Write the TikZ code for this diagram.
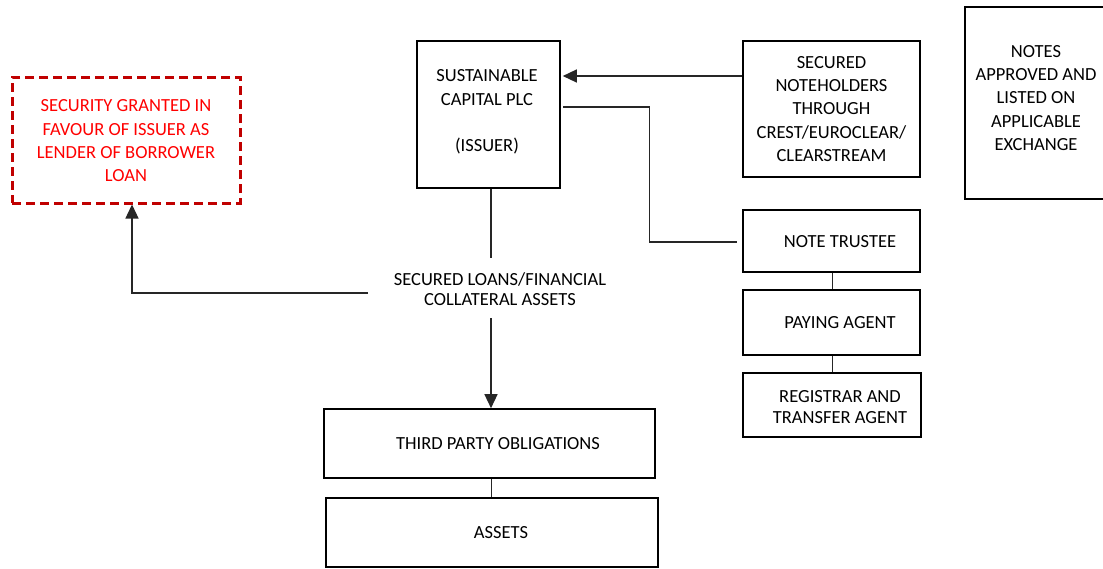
\documentclass[tikz,border=0pt]{standalone}
\usepackage{fontspec}
\setmainfont{Carlito}
\usetikzlibrary{arrows.meta,calc}
\definecolor{dred}{HTML}{C00000}
\definecolor{bred}{HTML}{FF0000}
\begin{document}
\begin{tikzpicture}[x=1pt,y=-1pt,
  boxst/.style={draw=black,line width=1.6pt,rectangle,inner sep=0pt},
  txt/.style={align=center,inner sep=0pt,font=\fontsize{18.5}{23.3}\selectfont},
  txtb/.style={align=center,inner sep=0pt,font=\fontsize{18.5}{20.7}\selectfont},
  conn/.style={line width=1.4pt,draw=black!85},
  arr/.style={conn,-{Triangle[length=14pt,width=13pt]}}]
\useasboundingbox (0,0) rectangle (1103,568);
% boxes
\node[boxst,draw=dred,line width=3pt,dash pattern=on 9pt off 5pt,minimum width=228pt,minimum height=126pt] (sec) at (126,140) {};
\node[txt,text=bred] (sect) at (126,141) {SECURITY GRANTED IN\\FAVOUR OF ISSUER AS\\LENDER OF BORROWER\\LOAN};
\node[boxst,minimum width=143pt,minimum height=147pt] (iss) at (488.5,114.5) {};
\node[txt] (isst) at (487,112) {SUSTAINABLE\\CAPITAL PLC\\[23.3pt](ISSUER)};
\node[boxst,minimum width=177pt,minimum height=136pt] (nh) at (831.5,109) {};
\node[txt] (nht) at (831.5,109) {SECURED\\NOTEHOLDERS\\THROUGH\\CREST/EUROCLEAR/\\CLEARSTREAM};
\node[boxst,minimum width=142pt,minimum height=192pt] (nt) at (1036,103) {};
\node[txt] (ntt) at (1036,98) {NOTES\\APPROVED AND\\LISTED ON\\APPLICABLE\\EXCHANGE};
\node[boxst,minimum width=177pt,minimum height=62pt] (tr) at (831.5,241) {};
\node[txt] (trt) at (840,242) {NOTE TRUSTEE};
\node[boxst,minimum width=177pt,minimum height=65pt] (pa) at (831.5,322.5) {};
\node[txt] (pat) at (840,323) {PAYING AGENT};
\node[boxst,minimum width=178pt,minimum height=64pt] (rg) at (832,405) {};
\node[txtb] (rgt) at (840,407) {REGISTRAR AND\\TRANSFER AGENT};
\node[txtb] (loans) at (500,289) {SECURED LOANS/FINANCIAL\\COLLATERAL ASSETS};
\node[boxst,minimum width=331pt,minimum height=69pt] (tp) at (489.5,443.5) {};
\node[txt] (tpt) at (498,444) {THIRD PARTY OBLIGATIONS};
\node[boxst,minimum width=332pt,minimum height=69pt] (as) at (492,532.5) {};
\node[txt] (ast) at (501,533) {ASSETS};
% helper coordinates
\coordinate (lt) at (491,258);
\coordinate (lb) at (491,318);
\coordinate (ll) at (368,293);
\coordinate (sa) at (132,293);
\coordinate (ya) at (0,76);
\coordinate (yb) at (563,107);
\coordinate (k) at (649.5,242);
\coordinate (xr) at (832.5,0);
\coordinate (xt) at (491.5,0);
% connectors
\draw[conn] (iss.south -| lt) -- (lt);
\draw[arr] (lb) -- (tp.north -| lb);
\draw[arr] (ll) -- (sa) -- (sec.south -| sa);
\draw[arr] (nh.west |- ya) -- ([xshift=2pt]iss.east |- ya);
\draw[conn] (yb) -| (k) -- ([xshift=-5pt]tr.west |- k);
\draw[conn] (tr.south -| xr) -- (pa.north -| xr);
\draw[conn] (pa.south -| xr) -- (rg.north -| xr);
\draw[conn] (tp.south -| xt) -- (as.north -| xt);
\end{tikzpicture}
\end{document}
